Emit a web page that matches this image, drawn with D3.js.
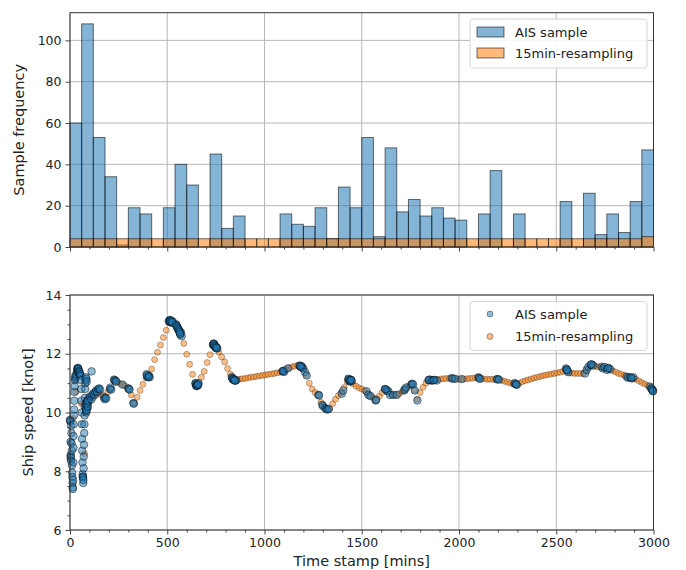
<!DOCTYPE html>
<html>
<head>
<meta charset="utf-8">
<script src="https://cdn.jsdelivr.net/npm/d3@7/dist/d3.min.js"></script>
<style>
  html, body { margin: 0; padding: 0; background: #fff; }
  svg { display: block; font-family: "DejaVu Sans", sans-serif; }
</style>
</head>
<body>
<svg id="chart" width="686" height="570"></svg>
<script>
// ---- data ----
// hourly histogram bins (60-min wide) from 0 to 3000 min
const binWidth = 60;
const aisCounts = [60,108,53,34,1,19,16,0,19,40, 30,0,45,9,15,0,0,0,16,11,
                   10,19,4,29,19,53,5,48,17,23, 15,19,14,13,0,16,37,0,16,0,
                   0,0,22,0,26,6,16,7,22,47];
const resampleCounts = [4,4,4,4,4,4,4,4,4,4, 4,4,4,4,4,4,4,4,4,4,
                        4,4,4,4,4,4,4,4,4,4, 4,4,4,4,4,4,4,4,4,4,
                        4,4,4,4,4,4,4,4,4,5];

// raw AIS samples: [time (min), speed (knot)]
const aisSamples = [
  [0,9.75],[1,9.7],[2,9.72],[3,9.0],[3,8.55],[4,8.5],[4,8.45],[5,8.35],[6,9.55],[7,9.3],
  [8,8.95],[9,8.7],[10,8.2],[11,7.95],[12,7.8],[13,7.6],[14,7.45],[15,7.4],[16,7.7],[17,8.3],
  [18,8.8],[18,9.2],[19,9.6],[20,9.9],[21,10.1],[22,10.4],[23,10.7],[24,10.9],[25,11.1],[26,11.15],
  [27,11.25],[30,11.2],[33,11.3],[36,11.4],[38,11.5],[40,11.45],[42,11.5],[44,11.42],[46,11.35],[48,11.3],
  [39,11.48],[41,11.52],[43,11.47],[45,11.4],[47,11.33],
  [50,11.38],[52,11.3],[55,11.25],[57,11.1],[58,10.8],[59,10.4],[60,10.0],[61,9.6],[62,9.1],[63,8.7],
  [64,8.3],[65,7.9],[66,7.8],[66,7.82],[67,7.78],[68,7.6],[69,7.7],[70,8.1],[71,8.5],[72,8.9],
  [73,9.3],[74,9.6],[75,9.9],[76,10.2],[77,10.5],[78,10.8],[79,11.0],[80,11.1],[82,11.2],[84,11.15],
  [86,11.05],[80,10.3],[82,10.1],[84,10.0],[86,10.2],[88,10.4],[90,10.15],[92,10.3],[95,10.45],[100,10.5],
  [81,10.25],[83,10.05],[85,10.1],[87,10.3],[89,10.35],[91,10.2],[93,10.4],
  [105,10.55],[110,10.45],[111,11.4],[115,10.6],[120,10.65],[125,10.6],[130,10.7],[135,10.75],[140,10.7],[145,10.8],
  [150,10.82],[155,10.78],[175,10.52],[178,10.45],[182,10.5],[186,10.48],[205,10.8],[208,10.85],[212,10.78],[226,11.12],
  [230,11.1],[234,11.08],[238,11.05],[270,10.95],[300,10.82],[303,10.8],[306,10.78],[326,10.32],[328,10.3],[394,11.3],
  [398,11.22],[402,11.2],[406,11.25],[410,11.2],[396,11.27],[404,11.22],
  [508,13.1],[512,13.15],[516,13.12],[520,13.08],[524,13.05],[528,13.1],[545,13.0],[548,12.95],[552,12.9],[555,12.85],
  [510,13.12],[514,13.1],[518,13.14],[522,13.1],[526,13.07],
  [558,12.82],[562,12.78],[565,12.7],[568,12.65],[571,12.72],[574,12.6],
  [546,12.98],[550,12.92],[556,12.86],[560,12.8],[563,12.75],[566,12.68],
  [645,11.0],[648,10.92],[651,10.9],[654,10.95],[657,10.92],[661,11.0],
  [646,10.98],[650,10.93],[653,10.91],[656,10.94],[659,10.96],
  [735,12.3],[738,12.35],[741,12.32],[745,12.25],[749,12.2],[753,12.22],[757,12.18],
  [737,12.32],[740,12.34],[743,12.28],[747,12.24],[751,12.21],[755,12.2],
  [832,11.2],[836,11.15],[840,11.12],[845,11.1],[850,11.08],[855,11.1],
  [834,11.18],[838,11.14],[842,11.11],[848,11.09],
  [1093,11.4],[1097,11.42],[1101,11.38],[1095,11.41],[1120,11.5],
  [1180,11.6],[1185,11.55],[1190,11.58],[1195,11.52],[1199,11.5],[1183,11.58],[1188,11.56],[1208,11.38],[1217,11.26],
  [1277,10.6],[1281,10.58],[1297,10.26],[1301,10.22],[1311,10.15],[1318,10.12],[1323,10.1],[1330,10.12],
  [1397,10.64],[1405,10.75],[1431,11.15],[1435,11.1],[1440,11.05],[1444,11.12],[1448,11.08],
  [1433,11.13],[1437,11.08],[1442,11.1],[1446,11.1],
  [1525,10.72],[1534,10.6],[1545,10.56],[1571,10.41],[1574,10.43],
  [1619,10.8],[1625,10.78],[1630,10.74],[1637,10.72],[1622,10.79],[1645,10.6],[1662,10.6],[1680,10.6],
  [1718,10.75],[1722,10.79],[1728,10.85],[1755,10.95],[1759,10.98],[1764,10.96],[1773,10.75],[1786,10.41],
  [1843,11.1],[1850,11.12],[1858,11.08],[1866,11.1],[1874,11.11],[1886,11.09],[1846,11.11],[1870,11.1],
  [1962,11.17],[1968,11.15],[1980,11.15],[2014,11.14],
  [2100,11.2],[2103,11.17],[2108,11.14],[2195,11.13],[2198,11.14],[2205,11.12],
  [2286,11.0],[2290,10.97],[2297,10.94],[2293,10.96],
  [2550,11.5],[2553,11.47],[2557,11.42],[2562,11.37],[2555,11.45],
  [2648,11.33],[2656,11.45],[2665,11.56],[2678,11.62],[2682,11.64],[2690,11.6],[2680,11.63],
  [2734,11.56],[2740,11.5],[2748,11.55],[2760,11.45],[2768,11.52],[2777,11.48],[2765,11.5],
  [2862,11.22],[2870,11.18],[2880,11.2],[2890,11.16],[2896,11.2],[2885,11.18],
  [2982,10.88],[2988,10.82],[2994,10.77],[2998,10.72],[2991,10.8],[2996,10.74]
];

// 15-minute resampled speed, starting at 0 min
const resampleStep = 15;
const resampleSpeed = [
  8.4, 9.8, 10.7, 11.3, 10.3, 8.6, 10.2, 10.4, 10.5, 10.6,
  10.7, 10.6, 10.5, 10.7, 10.8, 11.1, 11.05, 11.0, 10.95, 10.9,
  10.82, 10.6, 10.32, 10.52, 10.75, 10.96, 11.18, 11.25, 11.48, 11.8,
  12.05, 12.3, 12.55, 12.8, 13.05, 13.1, 13.0, 12.9, 12.7, 12.35,
  11.98, 11.64, 11.3, 11.0, 10.92, 11.2, 11.4, 11.7, 11.97, 12.3,
  12.2, 12.06, 11.89, 11.72, 11.5, 11.3, 11.15, 11.1, 11.13, 11.15,
  11.16, 11.18, 11.2, 11.21, 11.23, 11.25, 11.26, 11.28, 11.3, 11.31,
  11.33, 11.35, 11.37, 11.4, 11.47, 11.52, 11.55, 11.58, 11.6, 11.58,
  11.5, 11.28, 11.0, 10.8, 10.68, 10.6, 10.35, 10.2, 10.12, 10.12,
  10.3, 10.45, 10.58, 10.68, 10.85, 11.05, 11.1, 10.98, 10.9, 10.84,
  10.8, 10.75, 10.65, 10.55, 10.5, 10.42, 10.55, 10.68, 10.78, 10.72,
  10.62, 10.6, 10.6, 10.65, 10.72, 10.8, 10.9, 10.97, 10.75, 10.45,
  10.68, 10.86, 11.0, 11.1, 11.1, 11.1, 11.12, 11.14, 11.15, 11.16,
  11.16, 11.17, 11.15, 11.13, 11.13, 11.14, 11.15, 11.16, 11.17, 11.18,
  11.19, 11.16, 11.14, 11.13, 11.13, 11.13, 11.13, 11.12, 11.09, 11.06,
  11.03, 11.0, 10.97, 10.94, 11.0, 11.05, 11.08, 11.11, 11.14, 11.17,
  11.2, 11.22, 11.25, 11.27, 11.29, 11.31, 11.33, 11.35, 11.37, 11.4,
  11.45, 11.36, 11.34, 11.33, 11.33, 11.33, 11.33, 11.43, 11.56, 11.62,
  11.58, 11.55, 11.54, 11.52, 11.5, 11.46, 11.42, 11.38, 11.33, 11.3,
  11.27, 11.22, 11.19, 11.17, 11.13, 11.07, 11.02, 10.97, 10.92, 10.85,
  10.78
];

// axis ticks
const timeTicks = [0, 500, 1000, 1500, 2000, 2500, 3000];
const freqTicks = [0, 20, 40, 60, 80, 100];
const speedTicks = [6, 8, 10, 12, 14];
const seriesNames = ["AIS sample", "15min-resampling"];

// ---- layout ----
const svg = d3.select("#chart");
const left = 70, right = 653.5;
const p1 = { top: 12.7, bottom: 247 };
const p2 = { top: 295, bottom: 530 };
const blue = "#1f77b4", orange = "#ff7f0e";
const gridColor = "#b0b0b0", spineColor = "#333";
const fmt = d3.format("d");

const x = d3.scaleLinear().domain([0, 3000]).range([left, right]);
const yF = d3.scaleLinear().domain([0, 113.4]).range([p1.bottom, p1.top]);
const yS = d3.scaleLinear().domain([6, 14]).range([p2.bottom, p2.top]);

svg.append("rect").attr("width", 686).attr("height", 570).attr("fill", "#fff");

function grid(g, yScale, yTicks, panel) {
  g.selectAll(".gx").data(timeTicks).join("line")
    .attr("x1", d => x(d)).attr("x2", d => x(d))
    .attr("y1", panel.top).attr("y2", panel.bottom)
    .attr("stroke", gridColor).attr("stroke-width", 0.9);
  g.selectAll(".gy").data(yTicks).join("line")
    .attr("x1", left).attr("x2", right)
    .attr("y1", d => yScale(d)).attr("y2", d => yScale(d))
    .attr("stroke", gridColor).attr("stroke-width", 0.9);
}

function styleAxis(g) {
  g.select(".domain").remove();
  g.selectAll(".tick line").attr("stroke", spineColor).attr("stroke-width", 0.9);
  g.selectAll(".tick text").attr("fill", "#222").attr("font-size", "12.5px")
    .attr("font-family", "DejaVu Sans, sans-serif");
}

function frame(panel) {
  svg.append("rect")
    .attr("x", left).attr("y", panel.top)
    .attr("width", right - left).attr("height", panel.bottom - panel.top)
    .attr("fill", "none").attr("stroke", spineColor).attr("stroke-width", 1);
}

const minorTime = d3.range(100, 3000, 100).filter(v => v % 500);

// ---- top panel: histogram ----
const g1 = svg.append("g");
grid(g1.append("g"), yF, freqTicks, p1);

const bins = aisCounts.map((c, i) => ({ x0: i * binWidth, x1: (i + 1) * binWidth, ais: c, res: resampleCounts[i] }));

g1.append("g").selectAll("rect").data(bins.filter(b => b.ais > 0)).join("rect")
  .attr("x", d => x(d.x0)).attr("width", d => x(d.x1) - x(d.x0))
  .attr("y", d => yF(d.ais)).attr("height", d => yF(0) - yF(d.ais))
  .attr("fill", blue).attr("fill-opacity", 0.55)
  .attr("stroke", "#000").attr("stroke-opacity", 0.55).attr("stroke-width", 1);

g1.append("g").selectAll("rect").data(bins).join("rect")
  .attr("x", d => x(d.x0)).attr("width", d => x(d.x1) - x(d.x0))
  .attr("y", d => yF(d.res)).attr("height", d => yF(0) - yF(d.res))
  .attr("fill", orange).attr("fill-opacity", 0.55)
  .attr("stroke", "#000").attr("stroke-opacity", 0.55).attr("stroke-width", 1);

frame(p1);

svg.append("g").attr("transform", `translate(${left},0)`)
  .call(d3.axisLeft(yF).tickValues(freqTicks).tickSize(4.5).tickPadding(4).tickFormat(fmt))
  .call(styleAxis);
svg.append("g").attr("transform", `translate(0,${p1.bottom})`)
  .call(d3.axisBottom(x).tickValues(timeTicks).tickSize(4.5).tickFormat(""))
  .call(styleAxis);
svg.append("g").attr("transform", `translate(0,${p1.bottom})`)
  .call(d3.axisBottom(x).tickValues(minorTime).tickSize(2.5).tickFormat(""))
  .call(styleAxis);

svg.append("text")
  .attr("transform", `translate(24,${(p1.top + p1.bottom) / 2}) rotate(-90)`)
  .attr("text-anchor", "middle").attr("font-size", "14.5px").attr("fill", "#222")
  .text("Sample frequency");

// ---- bottom panel: speed scatter ----
const g2 = svg.append("g");
grid(g2.append("g"), yS, speedTicks, p2);

g2.append("g").selectAll("circle").data(resampleSpeed).join("circle")
  .attr("cx", (d, i) => x(i * resampleStep)).attr("cy", d => yS(d)).attr("r", 3.0)
  .attr("fill", orange).attr("fill-opacity", 0.5)
  .attr("stroke", "#000").attr("stroke-opacity", 0.4).attr("stroke-width", 0.7);

g2.append("g").selectAll("circle").data(aisSamples).join("circle")
  .attr("cx", d => x(d[0])).attr("cy", d => yS(d[1])).attr("r", 3.8)
  .attr("fill", blue).attr("fill-opacity", 0.5)
  .attr("stroke", "#000").attr("stroke-opacity", 0.5).attr("stroke-width", 0.9);

frame(p2);

svg.append("g").attr("transform", `translate(${left},0)`)
  .call(d3.axisLeft(yS).tickValues(speedTicks).tickSize(4.5).tickPadding(4).tickFormat(fmt))
  .call(styleAxis);
svg.append("g").attr("transform", `translate(${left},0)`)
  .call(d3.axisLeft(yS).tickValues(d3.range(6.5, 14, 0.5).filter(v => v % 2)).tickSize(2.5).tickFormat(""))
  .call(styleAxis);
svg.append("g").attr("transform", `translate(0,${p2.bottom})`)
  .call(d3.axisBottom(x).tickValues(timeTicks).tickSize(4.5).tickPadding(3.5).tickFormat(fmt))
  .call(styleAxis);
svg.append("g").attr("transform", `translate(0,${p2.bottom})`)
  .call(d3.axisBottom(x).tickValues(minorTime).tickSize(2.5).tickFormat(""))
  .call(styleAxis);

svg.append("text")
  .attr("transform", `translate(33,${(p2.top + p2.bottom) / 2}) rotate(-90)`)
  .attr("text-anchor", "middle").attr("font-size", "14.5px").attr("fill", "#222")
  .text("Ship speed [knot]");
svg.append("text")
  .attr("x", (left + right) / 2).attr("y", 566)
  .attr("text-anchor", "middle").attr("font-size", "14.5px").attr("fill", "#222")
  .text("Time stamp [mins]");

// ---- legends ----
function legendBox(y0) {
  svg.append("rect").attr("x", 470).attr("y", y0).attr("width", 177).attr("height", 49)
    .attr("rx", 3).attr("fill", "#fff").attr("fill-opacity", 0.85)
    .attr("stroke", "#d6d6d6").attr("stroke-width", 1);
}
legendBox(19);
[blue, orange].forEach((c, i) => {
  const cy = 32 + i * 21;
  svg.append("rect").attr("x", 477).attr("y", cy - 5).attr("width", 27).attr("height", 10)
    .attr("fill", c).attr("fill-opacity", 0.55).attr("stroke", "#000").attr("stroke-opacity", 0.55);
  svg.append("text").attr("x", 515).attr("y", cy).attr("dy", "0.35em")
    .attr("font-size", "13px").attr("fill", "#222").text(seriesNames[i]);
});
legendBox(301.5);
[blue, orange].forEach((c, i) => {
  const cy = 314 + i * 22.5;
  svg.append("circle").attr("cx", 490).attr("cy", cy).attr("r", 3)
    .attr("fill", c).attr("fill-opacity", 0.5).attr("stroke", "#000").attr("stroke-opacity", 0.45).attr("stroke-width", 0.8);
  svg.append("text").attr("x", 515).attr("y", cy).attr("dy", "0.35em")
    .attr("font-size", "13px").attr("fill", "#222").text(seriesNames[i]);
});
</script>
</body>
</html>
